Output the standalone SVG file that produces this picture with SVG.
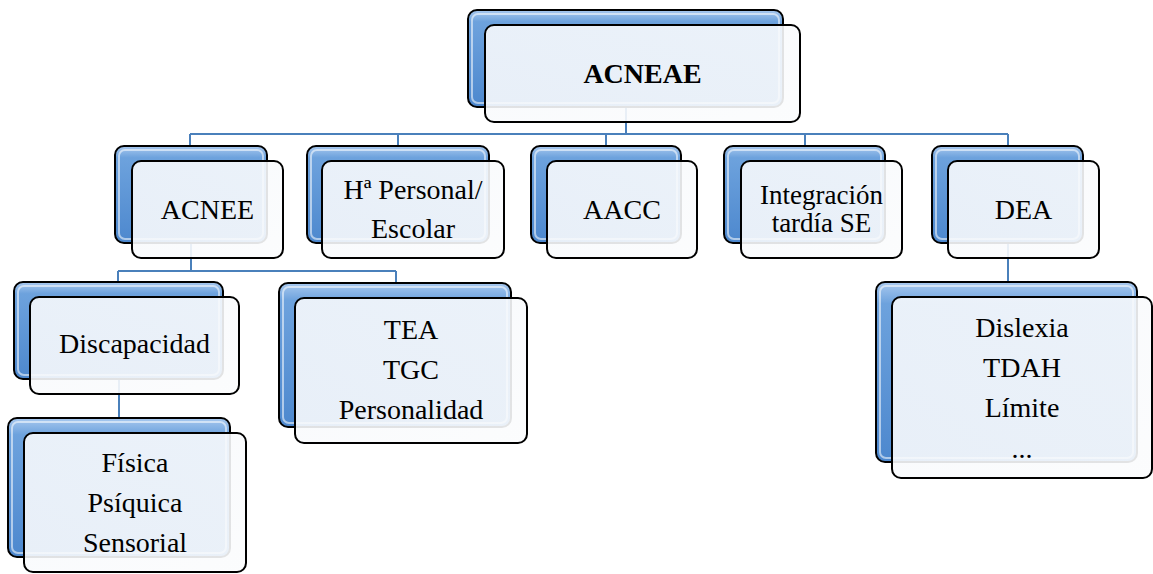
<svg xmlns="http://www.w3.org/2000/svg" width="1153" height="574" viewBox="0 0 1153 574">
  <defs>
    <linearGradient id="backFill" x1="0" y1="0" x2="0" y2="1">
      <stop offset="0" stop-color="#a9c9ef"/>
      <stop offset="0.12" stop-color="#6da2dd"/>
      <stop offset="1" stop-color="#4d88ce"/>
    </linearGradient>
    <linearGradient id="frontFill" x1="0" y1="0" x2="1" y2="1">
      <stop offset="0" stop-color="#f7f9fc"/>
      <stop offset="1" stop-color="#fbfcfd"/>
    </linearGradient>
    <style>
      .back { fill: url(#backFill); stroke: #000; stroke-width: 2; }
      .shine { fill: none; stroke: #ffffff; stroke-opacity: 0.55; stroke-width: 2; }
      .front { fill: url(#frontFill); fill-opacity: 0.9; stroke: #000; stroke-width: 2; }
      .link { fill: none; stroke: #4a80bb; stroke-width: 2; }
      .lbl { font-size: 28px; fill: #000; text-anchor: middle; }
      .bold { font-weight: bold; }
      .tight { font-size: 27px; }
    </style>
  </defs>

  <!-- connectors -->
  <g id="connectors">
    <path class="link" d="M626,107 V134" stroke-width="3"/>
    <path class="link" d="M190,134 H1008"/>
    <path class="link" d="M190,134 V146 M398,134 V146 M606,134 V146 M805,134 V146 M1008,134 V146"/>
    <path class="link" d="M191,243 V271 M118,271 H396 M118,271 V282 M396,271 V283"/>
    <path class="link" d="M119,379 V418"/>
    <path class="link" d="M1008,243 V282"/>
  </g>

  <g font-family="'Liberation Serif', Tinos, 'Times New Roman', 'DejaVu Serif', serif">
  <!-- ACNEAE -->
  <g id="acneae">
    <rect class="back" x="468" y="10" width="315" height="97" rx="9"/>
    <rect class="shine" x="472" y="14" width="307" height="89" rx="6"/>
    <rect class="front" x="485" y="25" width="315" height="97" rx="9"/>
    <text class="lbl bold" x="642.5" y="83">ACNEAE</text>
  </g>

  <!-- ACNEE -->
  <g id="acnee">
    <rect class="back" x="115" y="146" width="152" height="97" rx="9"/>
    <rect class="shine" x="119" y="150" width="144" height="89" rx="6"/>
    <rect class="front" x="132" y="161" width="151" height="97" rx="9"/>
    <text class="lbl" x="207.5" y="219">ACNEE</text>
  </g>

  <!-- Hª Personal/Escolar -->
  <g id="historia">
    <rect class="back" x="307" y="146" width="182" height="97" rx="9"/>
    <rect class="shine" x="311" y="150" width="174" height="89" rx="6"/>
    <rect class="front" x="322" y="161" width="182" height="97" rx="9"/>
    <text class="lbl" x="413" y="199">Hª Personal/</text>
    <text class="lbl" x="413" y="238">Escolar</text>
  </g>

  <!-- AACC -->
  <g id="aacc">
    <rect class="back" x="531" y="146" width="150" height="97" rx="9"/>
    <rect class="shine" x="535" y="150" width="142" height="89" rx="6"/>
    <rect class="front" x="547" y="161" width="150" height="97" rx="9"/>
    <text class="lbl" x="622" y="219">AACC</text>
  </g>

  <!-- Integración tardía SE -->
  <g id="integracion">
    <rect class="back" x="724" y="146" width="161" height="97" rx="9"/>
    <rect class="shine" x="728" y="150" width="153" height="89" rx="6"/>
    <rect class="front" x="741" y="161" width="161" height="97" rx="9"/>
    <text class="lbl tight" x="821.5" y="204">Integración</text>
    <text class="lbl tight" x="821.5" y="232">tardía SE</text>
  </g>

  <!-- DEA -->
  <g id="dea">
    <rect class="back" x="932" y="146" width="151" height="97" rx="9"/>
    <rect class="shine" x="936" y="150" width="143" height="89" rx="6"/>
    <rect class="front" x="948" y="161" width="151" height="97" rx="9"/>
    <text class="lbl" x="1023.5" y="219">DEA</text>
  </g>

  <!-- Discapacidad -->
  <g id="discapacidad">
    <rect class="back" x="14" y="282" width="209" height="97" rx="9"/>
    <rect class="shine" x="18" y="286" width="201" height="89" rx="6"/>
    <rect class="front" x="30" y="297" width="209" height="97" rx="9"/>
    <text class="lbl" x="134.5" y="353">Discapacidad</text>
  </g>

  <!-- TEA / TGC / Personalidad -->
  <g id="tea">
    <rect class="back" x="279" y="283" width="232" height="144" rx="9"/>
    <rect class="shine" x="283" y="287" width="224" height="136" rx="6"/>
    <rect class="front" x="295" y="298" width="232" height="145" rx="9"/>
    <text class="lbl" x="411" y="339">TEA</text>
    <text class="lbl" x="411" y="379">TGC</text>
    <text class="lbl" x="411" y="419">Personalidad</text>
  </g>

  <!-- Física / Psíquica / Sensorial -->
  <g id="tipos">
    <rect class="back" x="8" y="418" width="222" height="139" rx="9"/>
    <rect class="shine" x="12" y="422" width="214" height="131" rx="6"/>
    <rect class="front" x="24" y="433" width="222" height="139" rx="9"/>
    <text class="lbl" x="135" y="472">Física</text>
    <text class="lbl" x="135" y="512">Psíquica</text>
    <text class="lbl" x="135" y="552">Sensorial</text>
  </g>

  <!-- Dislexia / TDAH / Límite -->
  <g id="dificultades">
    <rect class="back" x="876" y="282" width="261" height="180" rx="9"/>
    <rect class="shine" x="880" y="286" width="253" height="172" rx="6"/>
    <rect class="front" x="892" y="297" width="260" height="181" rx="9"/>
    <text class="lbl" x="1022" y="337">Dislexia</text>
    <text class="lbl" x="1022" y="377">TDAH</text>
    <text class="lbl" x="1022" y="417">Límite</text>
    <text class="lbl" x="1022" y="458">...</text>
  </g>
  </g>
</svg>
